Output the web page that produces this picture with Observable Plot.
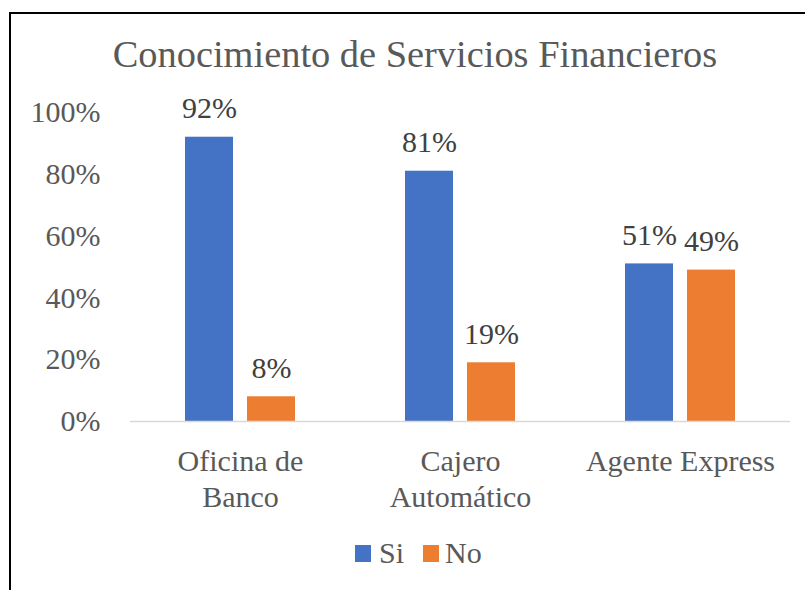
<!DOCTYPE html>
<html>
<head>
<meta charset="utf-8">
<script src="https://cdn.jsdelivr.net/npm/d3@7"></script>
<script src="https://cdn.jsdelivr.net/npm/@observablehq/plot@0.6"></script>
<style>
  html, body { margin: 0; padding: 0; background: #fff; overflow: hidden; }
  body { width: 805px; height: 590px; position: relative; font-family: "Liberation Serif", "Times New Roman", serif; }
  #frame { position: absolute; left: 9px; top: 12px; width: 900px; height: 700px; border-top: 2px solid #000; border-left: 2px solid #000; box-sizing: border-box; }
  #title { position: absolute; left: 0; top: 35px; width: 830px; text-align: center; font-size: 38.4px; line-height: 38px; color: #595959; white-space: nowrap; }
  #chart { position: absolute; left: 0; top: 90px; }
  .sw { position: absolute; width: 16px; height: 17px; }
  .lt { position: absolute; font-size: 30px; line-height: 30px; color: #595959; }
</style>
</head>
<body>
<div id="frame"></div>
<div id="title">Conocimiento de Servicios Financieros</div>
<div id="chart"></div>
<div class="sw" style="left:355px;top:545px;background:#4472C4"></div>
<div class="lt" style="left:379px;top:538px">Si</div>
<div class="sw" style="left:423px;top:545px;background:#ED7D31"></div>
<div class="lt" style="left:445px;top:538px">No</div>
<script>
const categories = ["Oficina de Banco", "Cajero Automático", "Agente Express"];
const categoryLabels = ["Oficina de\nBanco", "Cajero\nAutomático", "Agente Express"];
const series = ["Si", "No"];
const siValues = [92, 81, 51];
const noValues = [8, 19, 49];
const yTicks = [0, 20, 40, 60, 80, 100];
const colors = ["#4472C4", "#ED7D31"];

const rows = [];
categories.forEach((c, i) => {
  rows.push({cat: c, serie: "Si", value: siValues[i]});
  rows.push({cat: c, serie: "No", value: noValues[i]});
});

const chart = Plot.plot({
  width: 805,
  height: 430,
  marginLeft: 130,
  marginRight: 15,
  marginTop: 22,
  marginBottom: 99,
  style: {fontFamily: "'Liberation Serif', 'Times New Roman', serif", color: "#595959", background: "transparent"},
  fx: {domain: categories, padding: 0, axis: null},
  x: {domain: series, paddingInner: 0.226, paddingOuter: 0.887, axis: null},
  y: {domain: [0, 100], axis: null},
  color: {domain: series, range: colors},
  marks: [
    Plot.axisY({ticks: yTicks, tickFormat: d => d + "%", tickSize: 0, tickPadding: 30, fontSize: 30, label: null}),
    Plot.barY(rows, {fx: "cat", x: "serie", y: "value", fill: "serie"}),
    Plot.ruleY([0], {stroke: "#d9d9d9", strokeWidth: 1.5}),
    Plot.text(rows, {fx: "cat", x: "serie", y: "value", text: d => d.value + "%", dy: -28.6, fontSize: 30, fill: "#404040"}),
    Plot.text(categories, {fx: d => d, text: (d, i) => categoryLabels[i], frameAnchor: "bottom", lineAnchor: "top", dy: 25, lineHeight: 1.17, fontSize: 30, fill: "#595959"})
  ]
});
document.getElementById("chart").appendChild(chart);
</script>
</body>
</html>
